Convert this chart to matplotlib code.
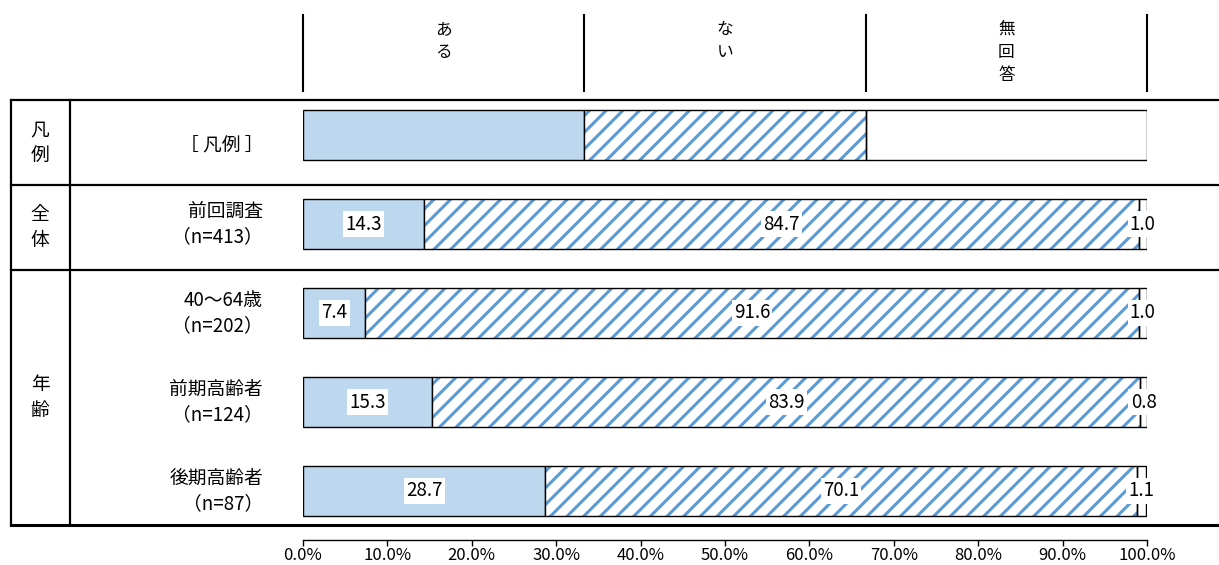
import matplotlib
matplotlib.use("Agg")
import matplotlib.pyplot as plt
from matplotlib.transforms import blended_transform_factory as blend

plt.rcParams["font.family"] = ["Noto Sans CJK JP", "DejaVu Sans"]
plt.rcParams["hatch.linewidth"] = 2.2

# ---- data ----
answers = ["ある", "ない", "無回答"]
legend_label = "［ 凡例 ］"
legend_shares = [100 / 3, 100 / 3, 100 / 3]
row_labels = ["前回調査\n（n=413）", "40～64歳\n（n=202）",
              "前期高齢者\n（n=124）", "後期高齢者\n（n=87）"]
aru = [14.3, 7.4, 15.3, 28.7]
nai = [84.7, 91.6, 83.9, 70.1]
mukaito = [1.0, 1.0, 0.8, 1.1]
groups = ["凡例", "全体", "年齢"]
tick_values = list(range(0, 101, 10))

# ---- styles ----
FILL_ARU = "#BDD7EE"
HATCH_COLOR = "#5B9BD5"
W, H = 1219, 565
BAR_H = 50 / 89
LABEL_FS = 13.5

fig = plt.figure(figsize=(W / 100, H / 100), dpi=100)

# overlay in pixel units for the table frame and labels
bg = fig.add_axes([0, 0, 1, 1], zorder=-1)
bg.set_xlim(0, W)
bg.set_ylim(H, 0)
bg.set_autoscale_on(False)
bg.axis("off")

# main bar axes
ax = fig.add_axes([303 / W, (H - 525) / H, 844 / W, 425 / H])
ax.patch.set_alpha(0)
ax.set_xlim(0, 100)
ax.set_ylim(4 + 34 / 89, -35 / 89)


def segment(y, left, width, kind):
    if kind == 0:
        ax.barh(y, width, left=left, height=BAR_H, color=FILL_ARU,
                edgecolor="black", linewidth=1.0, zorder=2)
    elif kind == 1:
        ax.barh(y, width, left=left, height=BAR_H, color="white",
                edgecolor=HATCH_COLOR, hatch="//", linewidth=0, zorder=2)
        ax.barh(y, width, left=left, height=BAR_H, fill=False,
                edgecolor="black", linewidth=1.0, zorder=3)
    else:
        ax.barh(y, width, left=left, height=BAR_H, color="white",
                edgecolor="black", linewidth=1.0, zorder=2)


# legend row
left = 0
for k, share in enumerate(legend_shares):
    segment(0, left, share, k)
    left += share

# survey rows
for i, vals in enumerate(zip(aru, nai, mukaito)):
    y = i + 1
    left = 0
    for k, v in enumerate(vals):
        segment(y, left, v, k)
        ax.text(left + v / 2, y, f"{v:.1f}", ha="center", va="center",
                fontsize=LABEL_FS, zorder=5,
                bbox=dict(boxstyle="square,pad=0.12", fc="white", ec="none"))
        left += v

# x axis at the bottom
for s in ["top", "right", "left"]:
    ax.spines[s].set_visible(False)
ax.spines["bottom"].set_position(("outward", 11))
ax.spines["bottom"].set_linewidth(1.0)
ax.set_yticks([])
ax.set_xticks(tick_values)
ax.set_xticklabels([f"{t:.1f}%" for t in tick_values])
ax.tick_params(axis="x", direction="out", length=4, width=1.0,
               labelsize=12, pad=1)

# header: column separators and answer labels
hdr = blend(ax.transData, bg.transData)
bounds = [0]
for share in legend_shares:
    bounds.append(bounds[-1] + share)
for b in bounds:
    bg.plot([b, b], [15, 91], color="black", lw=1.5, transform=hdr,
            clip_on=False)
for k, name in enumerate(answers):
    mid = (bounds[k] + bounds[k + 1]) / 2
    bg.text(mid, 21, "\n".join(name), transform=hdr, ha="center", va="top",
            fontsize=12, linespacing=1.45)

# table frame
top, bottom = 100, 525
seps = [185, 270]
bg.plot([11, W], [top, top], color="black", lw=1.6)
bg.plot([11, W], [bottom, bottom], color="black", lw=2.2)
for s in seps:
    bg.plot([11, W], [s, s], color="black", lw=1.6)
for x in (11, 70):
    bg.plot([x, x], [top, bottom], color="black", lw=1.6)

# group labels
cells = [top] + seps + [bottom]
for g, name in enumerate(groups):
    cy = (cells[g] + cells[g + 1]) / 2
    bg.text(40, cy, "\n".join(name), ha="center", va="center",
            fontsize=LABEL_FS, linespacing=1.3)

# row labels
bg.text(263, (cells[0] + cells[1]) / 2 + 3, legend_label, ha="right",
        va="center", fontsize=LABEL_FS)
rl = blend(bg.transData, ax.transData)
for i, lab in enumerate(row_labels):
    bg.text(263, i + 1, lab, transform=rl, ha="right", va="center",
            multialignment="right", fontsize=LABEL_FS, linespacing=1.3)

fig.savefig("out.png", dpi=100)
